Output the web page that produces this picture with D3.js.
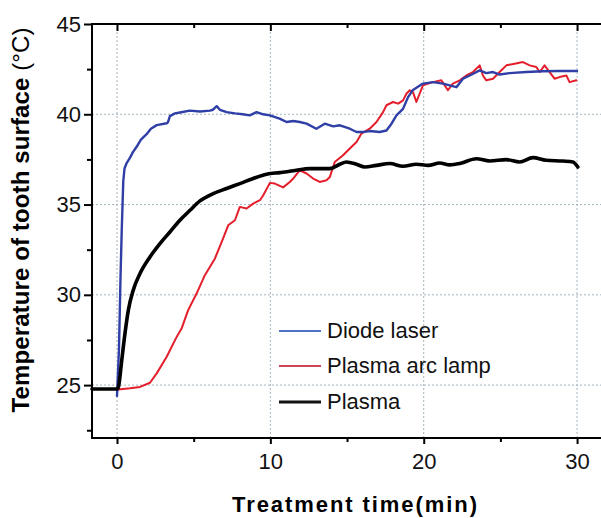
<!DOCTYPE html>
<html>
<head>
<meta charset="utf-8">
<script src="https://cdn.jsdelivr.net/npm/d3@7"></script>
<style>
  body { margin: 0; background: #fff; }
  svg { display: block; font-family: "Liberation Sans", Arial, sans-serif; }
</style>
</head>
<body>
<svg id="chart" width="601" height="518"></svg>
<script>
// Data (time in min, temperature in degC)
var diodeT = [0, 0.13, 0.23, 0.31, 0.41, 0.49, 0.63, 0.85, 1.04, 1.28, 1.56, 1.93, 2.21, 2.59, 3.24, 3.32, 3.45, 3.78, 4.1, 4.75, 5.41, 6.06, 6.25, 6.5, 6.71, 7.15, 7.7, 8.2, 8.66, 9.1, 9.53, 9.97, 10.6, 11.06, 11.49, 11.92, 12.36, 13.0, 13.55, 14.1, 14.53, 15.18, 15.62, 16.05, 16.48, 17.13, 17.57, 17.9, 18.22, 18.65, 18.98, 19.3, 19.95, 20.6, 21.26, 21.69, 22.13, 22.56, 23.0, 23.65, 24.08, 24.52, 24.95, 25.6, 26.69, 27.77, 28.86, 30];
var diodeV = [24.4, 27, 31, 33.6, 36.3, 37.0, 37.3, 37.6, 37.9, 38.2, 38.6, 38.9, 39.2, 39.4, 39.5, 39.55, 39.9, 40.05, 40.1, 40.2, 40.15, 40.2, 40.25, 40.45, 40.25, 40.12, 40.05, 40.0, 39.94, 40.12, 40.0, 39.94, 39.76, 39.57, 39.63, 39.57, 39.48, 39.2, 39.48, 39.33, 39.39, 39.2, 39.02, 39.02, 39.07, 39.02, 39.1, 39.48, 39.94, 40.3, 40.95, 41.35, 41.7, 41.78, 41.7, 41.6, 41.5, 41.97, 42.15, 42.43, 42.28, 42.34, 42.2, 42.28, 42.34, 42.38, 42.4, 42.4];

var arcT = [0, 0.08, 0.85, 1.5, 2.15, 2.59, 3.24, 3.89, 4.21, 4.64, 5.19, 5.73, 6.38, 6.92, 7.25, 7.69, 8.01, 8.45, 8.88, 9.32, 9.53, 9.97, 10.29, 10.83, 11.27, 11.49, 11.92, 12.36, 12.79, 13.22, 13.66, 13.88, 14.2, 14.74, 15.18, 15.62, 15.94, 16.48, 16.92, 17.35, 17.57, 18.0, 18.33, 18.65, 18.87, 19.09, 19.3, 19.52, 19.95, 20.6, 21.15, 21.58, 21.9, 22.35, 22.78, 23.21, 23.65, 23.86, 24.08, 24.52, 24.95, 25.39, 25.93, 26.47, 26.91, 27.34, 27.56, 27.88, 28.21, 28.53, 28.86, 29.3, 29.51, 29.95];
var arcV = [24.7, 24.76, 24.82, 24.9, 25.13, 25.65, 26.57, 27.67, 28.13, 29.15, 30.07, 31.09, 32.0, 33.12, 33.85, 34.13, 34.87, 34.78, 35.05, 35.24, 35.5, 36.2, 36.16, 35.95, 36.25, 36.44, 36.9, 36.72, 36.44, 36.25, 36.35, 36.53, 37.36, 37.73, 38.1, 38.46, 38.93, 39.2, 39.57, 40.12, 40.5, 40.68, 40.59, 40.77, 41.14, 41.33, 41.23, 40.68, 41.6, 41.78, 41.88, 41.33, 41.7, 41.88, 42.15, 42.34, 42.71, 42.15, 41.88, 41.97, 42.34, 42.71, 42.8, 42.89, 42.71, 42.62, 42.34, 42.71, 42.34, 41.97, 42.06, 42.15, 41.78, 41.88];

var plasmaT = [-1.63, 0, 0.08, 0.31, 0.52, 0.74, 1.06, 1.5, 2.15, 2.8, 3.45, 4.1, 4.76, 5.41, 6.27, 7.15, 8.01, 8.88, 9.75, 10.62, 11.27, 11.7, 12.57, 13.88, 14.53, 14.96, 15.62, 16.16, 16.92, 17.79, 18.65, 19.52, 20.3, 21.04, 21.7, 22.35, 23.43, 24.3, 25.39, 26.25, 27.12, 27.99, 29.08, 29.73, 30.05];
var plasmaV = [24.78, 24.78, 24.85, 26.38, 27.86, 29.15, 30.26, 31.18, 32.1, 32.84, 33.48, 34.13, 34.68, 35.2, 35.6, 35.89, 36.16, 36.44, 36.68, 36.77, 36.84, 36.9, 36.99, 36.99, 37.23, 37.36, 37.23, 37.08, 37.17, 37.27, 37.12, 37.23, 37.17, 37.3, 37.2, 37.27, 37.54, 37.41, 37.49, 37.36, 37.6, 37.45, 37.41, 37.36, 37.08];

var xMajor = [0, 10, 20, 30];
var xMinor = [5, 15, 25];
var yMajor = [25, 30, 35, 40, 45];
var yMinor = [22.5, 27.5, 32.5, 37.5, 42.5];
var seriesNames = ["Diode laser", "Plasma arc lamp", "Plasma"];

var svg = d3.select("#chart");

// Plot box
var boxL = 92, boxR = 601, boxT = 24, boxB = 438;

var x = d3.scaleLinear().domain([-1.63, 31.56]).range([boxL, boxR]);
var y = d3.scaleLinear().domain([22.07, 45]).range([boxB, boxT]);

// Dotted grid
var grid = svg.append("g")
    .attr("stroke", "#a3b4be")
    .attr("stroke-width", 1)
    .attr("stroke-dasharray", "2,2");
grid.selectAll("line.v")
    .data(xMajor)
    .enter().append("line")
    .attr("x1", function(d) { return x(d); })
    .attr("x2", function(d) { return x(d); })
    .attr("y1", boxT)
    .attr("y2", boxB);
grid.selectAll("line.h")
    .data(yMajor.filter(function(d) { return d < 45; }))
    .enter().append("line")
    .attr("x1", boxL)
    .attr("x2", boxR)
    .attr("y1", function(d) { return y(d); })
    .attr("y2", function(d) { return y(d); });

// Curves
var line = d3.line()
    .x(function(d) { return x(d[0]); })
    .y(function(d) { return y(d[1]); });
var smooth = d3.line()
    .curve(d3.curveMonotoneX)
    .x(function(d) { return x(d[0]); })
    .y(function(d) { return y(d[1]); });

var curves = [
    { pts: d3.zip(arcT, arcV), color: "#e41e2b", w: 2, gen: line },
    { pts: d3.zip(diodeT, diodeV), color: "#2f3fa6", w: 2.4, gen: line },
    { pts: d3.zip(plasmaT, plasmaV), color: "#000", w: 3.6, gen: smooth }
];

svg.append("g")
    .selectAll("path")
    .data(curves)
    .enter().append("path")
    .attr("d", function(d) { return d.gen(d.pts); })
    .attr("fill", "none")
    .attr("stroke", function(d) { return d.color; })
    .attr("stroke-width", function(d) { return d.w; })
    .attr("stroke-linejoin", "round")
    .attr("stroke-linecap", "round");

// Axes
function styleAxis(g) {
    g.select(".domain").remove();
    g.selectAll(".tick line").attr("stroke", "#000").attr("stroke-width", 2);
    g.selectAll(".tick text")
        .attr("fill", "#111")
        .style("font-size", "22px")
        .style("font-family", "'Liberation Sans', Arial, sans-serif");
}

svg.append("g")
    .attr("transform", "translate(" + boxL + ",0)")
    .call(d3.axisLeft(y).tickValues(yMajor).tickSize(8).tickPadding(3).tickFormat(d3.format("d")))
    .call(styleAxis);
svg.append("g")
    .attr("transform", "translate(" + boxL + ",0)")
    .call(d3.axisLeft(y).tickValues(yMinor).tickSize(5).tickFormat(""))
    .call(styleAxis);

svg.append("g")
    .attr("transform", "translate(0," + boxB + ")")
    .call(d3.axisBottom(x).tickValues(xMajor).tickSize(6).tickPadding(9).tickFormat(d3.format("d")))
    .call(styleAxis);
svg.append("g")
    .attr("transform", "translate(0," + boxB + ")")
    .call(d3.axisBottom(x).tickValues(xMinor).tickSize(4).tickFormat(""))
    .call(styleAxis);

svg.append("g")
    .attr("transform", "translate(0," + boxT + ")")
    .call(d3.axisBottom(x).tickValues(xMajor).tickSize(7).tickFormat(""))
    .call(styleAxis);
svg.append("g")
    .attr("transform", "translate(0," + boxT + ")")
    .call(d3.axisBottom(x).tickValues(xMinor).tickSize(4).tickFormat(""))
    .call(styleAxis);

svg.append("g")
    .attr("transform", "translate(" + boxR + ",0)")
    .call(d3.axisLeft(y).tickValues(yMajor.concat(yMinor)).tickSize(-5).tickFormat(""))
    .call(styleAxis);

// Frame
svg.append("rect")
    .attr("x", boxL)
    .attr("y", boxT)
    .attr("width", boxR - boxL + 2)
    .attr("height", boxB - boxT)
    .attr("fill", "none")
    .attr("stroke", "#000")
    .attr("stroke-width", 2);

// Legend
var legendColors = ["#4a72c6", "#cc4656", "#111"];
var legendY = [331, 366, 402];
var legend = svg.append("g");
seriesNames.forEach(function(name, i) {
    legend.append("line")
        .attr("x1", 279).attr("x2", 321)
        .attr("y1", legendY[i]).attr("y2", legendY[i])
        .attr("stroke", legendColors[i])
        .attr("stroke-width", i === 2 ? 3 : 2);
    legend.append("text")
        .attr("x", 327)
        .attr("y", legendY[i] + 7)
        .style("font-size", "22px")
        .attr("fill", "#111")
        .text(name);
});

// Axis titles
svg.append("text")
    .attr("x", 354.5)
    .attr("y", 512)
    .attr("text-anchor", "middle")
    .attr("textLength", 245)
    .attr("lengthAdjust", "spacing")
    .style("font-size", "22px")
    .style("font-weight", "bold")
    .attr("fill", "#000")
    .text("Treatment time(min)");

var yTitle = svg.append("text")
    .attr("transform", "translate(29,220) rotate(-90)")
    .attr("text-anchor", "middle")
    .attr("textLength", 385)
    .attr("lengthAdjust", "spacing")
    .style("font-size", "24px")
    .attr("fill", "#000");
yTitle.append("tspan").style("font-weight", "bold").text("Temperature of tooth surface  ");
yTitle.append("tspan").style("font-weight", "normal").text("(°C)");
</script>
</body>
</html>
